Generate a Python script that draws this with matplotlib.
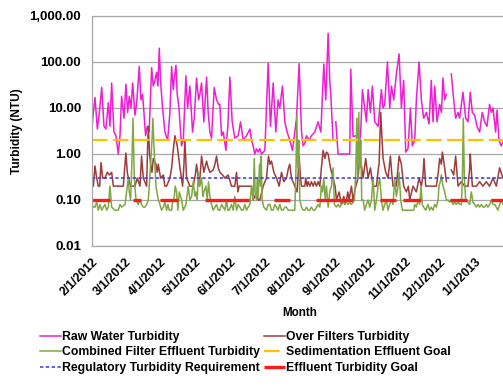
import numpy as np
import matplotlib
matplotlib.use('Agg')
import matplotlib.pyplot as plt
import matplotlib.dates as mdates
from matplotlib.ticker import FixedLocator, FuncFormatter
from datetime import datetime

plt.rcParams['font.family'] = ['Liberation Sans', 'DejaVu Sans']
plt.rcParams['font.weight'] = 'bold'

# days after 2/1/2012 and turbidity (NTU) for each series; nan = no reading
raw_day = [0, 2.6, 4.7, 6.4, 8.5, 10.5, 12.2, 14.3, 15.7, 17.2, 19.2, 21, 23, 24.5, 25.9, 28, 29.7,
           31.2, 32.6, 34.1, 35.6, 37.6, 39, 41.4, 42.8, 44.3, 46.9, 48.4, 50, 52.2, 53.6, 55.1, 56.6,
           57.7, 58.9, 60, 61.5, 63.8, 66.2, 68.2, 69.7, 71.1, 72.3, 73.5, 74.6, 76.1, 78.4, 79.9, 82.2,
           83.7, 85.7, 88, 89.5, 91.5, 93.3, 94.4, 95.9, 97.9, 100.3, 101.7, 103.2, 104.6, 107, 109,
           110.8, 111.9, 113.4, 114.9, 117.2, 118.9, 120.7, 122.7, 125, 128, 130, 132.3, 135.3, 138.2,
           139.6, 141.1, 142.5, 144, 145.5, 146.9, 148.4, 151.3, 154.2, 156.2, 158.6, 160.9, 162.9,
           164.4, 166.7, 168.8, 170.8, 173.1, 175.5, 177.5, 179, 181.3, 183.4, 184.8, 186.3, 187.7,
           190.1, 192.1, 195, 197.9, 200.3, 201.7, 202.9, 204.6, 206.7, 208.1, 209, 211, 212.5, 213.4,
           215.4, 225.6, 226.5, 228.5, 231.5, 233.8, 235.2, 236.7, 238.7, 240.2, 241.7, 243.7, 245.4,
           247.5, 250.4, 253.3, 254.8, 256.2, 258.6, 260.6, 262.1, 264.1, 266.4, 268.8, 270.8, 272.8,
           274.6, 276.6, 278.7, 280.4, 282.5, 283.9, 286.3, 288.3, 290.3, 292.7, 295, 297, 298.5, 300,
           302, 304.3, 305.8, 307.2, 308.7, 310.2, 312, 314.5, 316.6, 318.3, 320.4, 321.8, 324.7,
           327.1, 329.1, 331.1, 332.9, 334.9, 337, 339.3, 341.6, 343.7, 345.7, 348, 349.5, 351, 353.3,
           354.5, 356.2, 358.2, 359.7]
raw_ntu = [4, 17, 3.5, 8, 28, 4, 3.5, 13, 4, 35, 3, 2.5, 1.0, 2.5, 18, 6, 33,
           8, 18, 10, 35, 7, 12, 80, 15, 20, 2.5, 4, 3, 75, 30, 40, 60,
           30, 200, 40, 12, 3, 2, 8, 80, 25, 50, 85, 20, 10, 1.5, 2, 50,
           10, 30, 3, 6, 45, 15, 20, 35, 5, 47, 8, 3, 2.2, 28, 15,
           12, 12, 2.5, 3, 1.2, 4, 47, 5, 2.2, 2.5, 5, 2, 2.5, 3.5,
           2, 1.5, 1.0, 1.3, 1.1, 1.3, 1.0, 1.2, 95, 4, 35, 3, 15,
           10, 30, 5, 3, 2, 1.2, 3, 6, 92, 3, 1.5, 1.7, 2.5,
           2, 2.5, 3, 5, 3, 20, 90, 15, 420, 40, 20, 2, np.nan, 5,
           1.0, 1.0, 70, 2.4, 2.5, 1.5, 3, 25, 10, 5, 25, 8, 30,
           5, 4, 25, 10, 12, 100, 10, 30, 15, 55, 150, 10, 40,
           1.1, 1.3, 10, 1.5, 2, 15, 100, 15, 6, 8, 4.5, 40, 5, 30,
           5, 12, 8, 45, 15, 20, np.nan, 55, 15, 6, 8, 6, 22,
           6, 5, 22, 8, 7, 4, 3, 8, 5, 4, 12, 8, 10, 3,
           9, 2, 1.5, 1.8]

over_day = [0, 1.2, 2.6, 4.1, 5.5, 6.7, 7.9, 9.3, 11.4, 13.4, 15.2, 17.2, 18.7, 23, 27.4, 28.6, 29.7,
            30.9, 31.8, 33.8, 37.6, 39.6, 42, 43.4, 44.9, 47.8, 48.7, 49.3, 50.4, 51.3, 52.5, 53.6, 56,
            57.1, 58, 60, 62.4, 63.8, 65.3, 68.2, 69.7, 71.1, 72.6, 74.6, 77, 79.3, 80.5, 81.3, 82.8,
            85.7, 88.6, 90.4, 91.5, 93.9, 95.9, 97.9, 100.3, 101.7, 103.2, 106.1, 107.6, 109, 110.5,
            111.9, 114.3, 116.3, 119.2, 122.1, 125, 126.5, 127.7, 128.8, 132.3, 136.7, 139.6, 141.1,
            142.5, 144, 145.5, 146.9, 149.8, 152.7, 154.5, 155.7, 157.1, 159.2, 161.5, 163.8, 165.9,
            167.9, 170.2, 172, 173.1, 174.6, 177.5, 179.6, 180.7, 181.3, 182.5, 183.4, 186.3, 187.1,
            188.3, 189.2, 190.6, 192.1, 193.6, 195, 196.5, 197.9, 199.4, 200.8, 202.3, 203.8, 205.2,
            206.7, 208.7, 211, 212.8, 214, 216.3, 218.3, 220.4, 221.5, 222.7, 223.9, 225, 227.1, 228.5,
            230.9, 232.9, 234.4, 236.1, 237.3, 239.6, 241.7, 243.7, 246, 249, 250.7, 251.3, 252.7,
            253.9, 254.8, 257.1, 259.1, 261.2, 262.3, 263.5, 266.4, 268.8, 270.8, 272.8, 275.2, 276.9,
            278.1, 281, 283.9, 286.3, 288.3, 289.7, 290.6, 292.1, 295.6, 298.5, 301.4, 303.1, 304.3,
            305.8, 306.7, 308.7, 310.2, 312, 314.5, 316.6, 318.3, 320.4, 323.3, 326.2, 329.1, 330.6,
            331.1, 332.9, 336.4, 339.3, 342.2, 345.1, 348, 351, 353.9, 356.8, 359.7]
over_ntu = [0.2, 0.2, 0.55, 0.3, 0.2, 0.2, 0.65, 0.3, 0.3, 0.4, 0.35, 0.4, 0.2, 0.2, 0.2, 0.5, 1.05,
            0.4, 0.3, 0.2, 0.2, 0.3, 0.2, 0.9, 0.3, 0.2, 1.5, 4.0, 1.0, 0.6, 0.4, 0.8, 0.6,
            0.4, 0.6, 0.3, 0.35, 0.2, 0.2, 0.3, 0.5, 1.2, 2.5, 1.5, 0.5, 0.2, 0.6, 2.0, 0.3,
            0.2, 0.2, 0.35, 0.6, 0.2, 0.9, 0.4, 0.7, 0.5, 0.4, 0.45, 0.6, 0.9, 0.5,
            0.4, 0.35, 0.3, 0.35, 0.2, 0.2, 0.4, 0.15, 0.2, 0.2, 0.2, 0.2, 0.1,
            0.12, 0.15, 0.1, 0.1, 0.2, 0.3, 0.9, 0.6, 0.7, 0.4, 0.3, 0.2, 0.4,
            0.25, 0.3, 0.5, 0.6, 0.3, 0.2, 0.15, 0.5, 0.9, 0.3, 0.2, 0.2, 0.3,
            0.2, 0.25, 0.2, 0.25, 0.2, 0.25, 0.2, 0.25, 0.2, 0.5, 1.2, 0.8, 1.1,
            1.0, 0.5, 0.3, 0.2, 0.1, 0.15, 0.08, 0.12, 0.08, 0.1, 0.15, 0.1, 0.2, 0.1,
            0.2, 0.3, 0.9, 0.5, 0.3, 0.8, 0.3, 0.5, 0.2, 0.2, 0.5, 0.6, 8.0,
            2.0, 0.8, 0.4, 0.3, 0.9, 0.4, 0.2, 0.2, 0.9, 0.6, 0.2, 0.15, 0.2,
            0.1, 0.2, 0.15, 0.3, 0.2, 0.35, 0.8, 0.2, 0.2, 0.2, 0.2, 0.4, 0.8,
            0.6, 1.1, 0.5, 0.25, np.nan, 0.45, 0.35, 0.9, 0.2, 0.25, 0.2, 0.2, 0.5,
            1.0, 0.2, 0.2, 0.25, 0.2, 0.25, 0.2, 0.3, 0.2, 0.5, 0.3]

cfe_day = [0, 1.2, 2.6, 4.1, 5.5, 7, 8.5, 9.9, 11.4, 12.8, 14.3, 15.7, 17.2, 20.1, 23, 24.5, 25.9,
           28.9, 30.3, 31.8, 32.6, 33.8, 35, 35.9, 37, 38.5, 40.5, 42, 43.4, 44.9, 46.3, 47.8, 49.3,
           51.3, 52.5, 53.3, 54.2, 56, 58, 59.5, 60.9, 62.4, 63.8, 65.3, 66.5, 67.6, 69.7, 70.5, 71.7,
           72.9, 74, 75.2, 76.4, 78.4, 79.9, 82.2, 84.2, 85.7, 87.2, 88.6, 90.1, 91, 92.1, 93, 94.4,
           95.9, 97.1, 97.9, 99.7, 100.9, 102, 103.2, 104.6, 106.1, 107.6, 109, 110.5, 111.9, 113.4,
           114.9, 116.3, 117.8, 118.9, 120.1, 122.1, 123.6, 125, 126.5, 128, 129.4, 130.9, 132.3,
           133.8, 135.3, 136.7, 138.2, 139.6, 141.1, 142, 142.8, 144, 144.6, 145.5, 146.6, 147.5,
           148.1, 148.9, 150.4, 152.7, 154.2, 155.7, 157.1, 158.6, 160, 161.5, 162.9, 164.4, 165.9,
           167.3, 168.8, 170.2, 171.7, 173.1, 175.5, 177.5, 178.4, 179.3, 180.1, 181, 181.9, 183.4,
           184.8, 186.3, 187.7, 189.2, 190.6, 192.1, 193.6, 195, 196.5, 197.9, 199.4, 200.8, 201.7,
           202.9, 204.1, 205.2, 206.7, 208.1, 209.6, 211, 212.2, 214, 215.4, 216.9, 218.3, 219.8,
           221.2, 222.7, 224.2, 225.6, 227.1, 228.5, 229.7, 230.9, 231.8, 232.6, 233.5, 234.4, 235.2,
           236.1, 237.3, 238.7, 240.2, 241.7, 243.1, 244.6, 246, 247.5, 249, 250.4, 251.9, 253.3,
           254.8, 256.2, 257.7, 259.1, 260.6, 262.1, 263.5, 265, 266.4, 267.9, 268.8, 270.2, 271.7,
           273.7, 276.6, 279.5, 281.6, 282.5, 283.9, 285.4, 286.8, 288, 289.1, 290.3, 292.1, 294.1,
           295.6, 297, 298.5, 300, 301.4, 302.9, 303.7, 304.9, 305.8, 307.2, 308.7, 310.2, 311.6,
           313.1, 314.5, 316, 317.4, 318.9, 320.4, 321.8, 323.3, 324.2, 325, 325.9, 327.1, 329.1,
           330.6, 332, 333.5, 335, 336.4, 337.9, 339.3, 340.8, 342.2, 343.7, 345.1, 346.6, 348,
           349.5, 351, 352.5, 353.9, 355.3, 356.8, 358.2, 359.7]
cfe_ntu = [0.08, 0.07, 0.07, 0.09, 0.06, 0.08, 0.06, 0.07, 0.08, 0.06, 0.07, 0.2, 0.07, 0.06, 0.06, 0.08, 0.07,
           0.08, 0.15, 0.3, 0.15, 0.1, 0.8, 6.0, 0.3, 0.1, 0.08, 0.1, 0.08, 0.07, 0.07, 0.08, 0.1,
           0.6, 2.0, 6.0, 1.5, 0.2, 0.1, 0.08, 0.06, 0.07, 0.09, 0.06, 0.08, 0.06, 0.06, 0.09, 0.1,
           0.2, 0.15, 0.06, 0.15, 0.1, 0.06, 0.08, 0.2, 0.1, 0.12, 0.25, 0.12, 0.15, 0.1, 0.4, 0.2,
           0.3, 0.12, 0.15, 0.2, 0.1, 0.25, 0.12, 0.08, 0.06, 0.07, 0.08, 0.06, 0.06, 0.08,
           0.07, 0.06, 0.1, 0.06, 0.06, 0.08, 0.06, 0.12, 0.06, 0.08, 0.07, 0.06, 0.06,
           0.08, 0.06, 0.07, 0.08, 0.2, 0.1, 0.8, 0.15, 0.1, 0.3, 0.12, 0.6, 0.2,
           0.9, 0.1, 0.07, 0.06, 0.08, 0.08, 0.06, 0.06, 0.08, 0.07, 0.06, 0.08, 0.06,
           0.06, 0.07, 0.07, 0.06, 0.06, 0.06, 0.06, 0.3, 7.0, 0.5, 2.0, 0.1, 0.07,
           0.06, 0.06, 0.07, 0.06, 0.06, 0.07, 0.06, 0.06, 0.07, 0.08, 0.07, 0.2, 0.15,
           0.3, 0.1, 0.2, 0.07, 0.15, 0.2, 0.5, 0.08, 0.07, 0.08, 0.07, 0.08, 0.09,
           0.08, 0.09, 0.08, 0.09, 0.08, 0.09, 0.1, 0.4, 6.0, 0.3, 8.0, 0.5, 2.0,
           0.1, 0.1, 0.06, 0.08, 0.1, 0.07, 0.1, 0.3, 0.06, 0.1, 0.2, 0.3, 0.1,
           0.06, 0.08, 0.1, 0.06, 0.08, 0.1, 0.08, 0.3, 0.12, 0.2, 0.4, 0.1, 0.06,
           0.06, 0.06, 0.06, 0.06, 0.08, 0.07, 0.1, 0.08, 0.2, 0.08, 0.07, 0.06, 0.08,
           0.06, 0.07, 0.06, 0.08, 0.07, 0.1, 0.2, 0.25, 0.35, 0.2, 0.15, 0.1, 0.1,
           0.09, 0.1, 0.08, 0.09, 0.08, 0.09, 0.08, 0.08, 0.3, 6.0, 0.3, 0.1, 0.09,
           0.08, 0.15, 0.09, 0.08, 0.07, 0.08, 0.07, 0.08, 0.07, 0.07, 0.08, 0.07, 0.08,
           0.1, 0.08, 0.08, 0.07, 0.06, 0.08, 0.1, 0.08]

# goal / requirement levels (NTU)
sed_goal = 2.0
reg_req = 0.3
eff_goal = 0.1
# stretches (days after 2/1/2012) where the effluent goal is plotted
eff_spans = [(0, 15.7), (36, 43), (59.5, 75.5), (99, 137), (159, 173), (196.5, 228.6),
             (252, 266.5), (272, 288), (313, 328), (349.6, 360)]

start = mdates.date2num(datetime(2012, 2, 1))
end = mdates.date2num(datetime(2013, 1, 31))


def to_dates(days):
    return start + np.array(days, dtype=float)


eff_x, eff_y = [], []
for a, b in eff_spans:
    eff_x += [a, b, b]
    eff_y += [eff_goal, eff_goal, np.nan]

fig = plt.figure(figsize=(5.03, 3.86), dpi=100)
ax = fig.add_axes([92 / 503, 140 / 386, 417 / 503, 230 / 386])

l_raw, = ax.plot(to_dates(raw_day), raw_ntu, color='#EE1FD2', lw=1.1)
l_over, = ax.plot(to_dates(over_day), over_ntu, color='#9E3B3B', lw=1.1)
l_cfe, = ax.plot(to_dates(cfe_day), cfe_ntu, color='#7FA844', lw=1.1)
l_sed, = ax.plot([start, end], [sed_goal, sed_goal], color='#FFC000', lw=1.6, dashes=(7, 2.4))
l_reg, = ax.plot([start, end], [reg_req, reg_req], color='#3535E8', lw=1.1, dashes=(2.2, 1.6))
l_eff, = ax.plot(to_dates(eff_x), eff_y, color='#FF1A1A', lw=2.4, solid_capstyle='butt')

ax.set_yscale('log')
ax.set_ylim(0.01, 1000)
ax.set_xlim(start, end)
ax.yaxis.set_major_locator(FixedLocator([0.01, 0.1, 1, 10, 100, 1000]))
ax.yaxis.set_minor_locator(FixedLocator([]))
ax.yaxis.set_major_formatter(FuncFormatter(lambda v, p: f'{v:,.2f}'))
ax.xaxis.set_major_locator(mdates.MonthLocator())
ax.xaxis.set_major_formatter(mdates.DateFormatter('%-m/%-d/%Y'))
ax.grid(axis='y', color='#A8A8A8', lw=0.9)
ax.set_axisbelow(True)
for s in ax.spines.values():
    s.set_color('#A8A8A8')
    s.set_linewidth(0.9)

ax.tick_params(axis='y', length=0, pad=8, labelsize=9.5)
ax.tick_params(axis='x', length=0, pad=7, labelsize=8.8)
for t in ax.get_xticklabels():
    t.set_rotation(45)
    t.set_ha('right')
    t.set_va('top')
    t.set_rotation_mode('anchor')

ax.set_ylabel('Turbidity (NTU)', fontsize=8.6, fontweight='bold')
ax.yaxis.set_label_coords(-69 / 417, 0.5)
fig.text(300 / 503, 1 - 313 / 386, 'Month', ha='center', va='center', fontsize=8.4, fontweight='bold')

handles = [l_raw, l_cfe, l_reg, l_over, l_sed, l_eff]
labels = ['Raw Water Turbidity', 'Combined Filter Effluent Turbidity', 'Regulatory Turbidity Requirement',
          'Over Filters Turbidity', 'Sedimentation Effluent Goal', 'Effluent Turbidity Goal']
fig.legend(handles, labels, ncol=2, loc='upper left', bbox_to_anchor=(40 / 503, 1 - 331 / 386),
           frameon=False, fontsize=8.8, handlelength=1.7, handletextpad=0.1, columnspacing=0.35,
           labelspacing=0.28, borderpad=0, borderaxespad=0)

fig.savefig('out.png', dpi=100)
